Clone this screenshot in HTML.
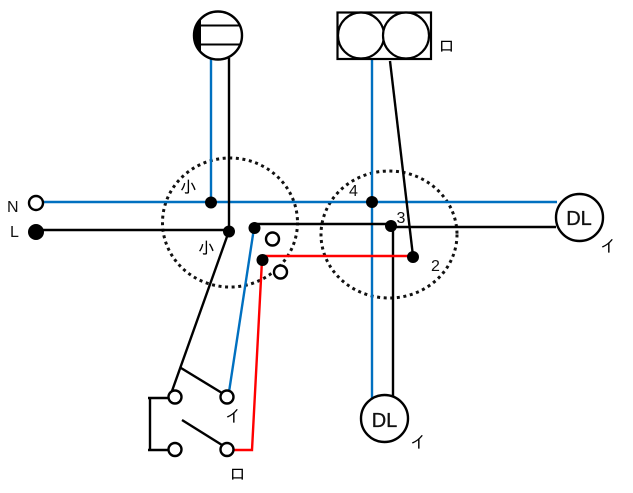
<!DOCTYPE html>
<html><head><meta charset="utf-8"><style>
html,body{margin:0;padding:0;background:#fff;width:633px;height:493px;overflow:hidden}
svg{display:block}
text{font-family:"Liberation Sans","Noto Sans CJK JP",sans-serif}
.k{font-family:"IPAGothic","Noto Sans CJK JP",sans-serif;font-size:17px;font-weight:400;fill:#000}
.n{font-size:16px;fill:#111}
.d{font-size:20px;fill:#111;stroke:#111;stroke-width:.3;text-anchor:middle}
</style></head><body>
<svg width="633" height="493" viewBox="0 0 633 493" xmlns="http://www.w3.org/2000/svg">
<!-- dotted zones -->
<ellipse cx="230" cy="222.500" rx="67.500" ry="64.500" fill="none" stroke="#111" stroke-width="3" stroke-dasharray="3 3.600"/>
<ellipse cx="389" cy="234.500" rx="68" ry="63.500" fill="none" stroke="#111" stroke-width="3" stroke-dasharray="3 3.600"/>
<!-- blue -->
<g fill="none" stroke="#0070c0" stroke-width="2.400">
<path d="M43 202H557"/>
<path d="M211 58V202"/>
<path d="M372 59V398"/>
<path d="M254 228L229 392"/>
</g>
<!-- black -->
<g fill="none" stroke="#000" stroke-width="2.400">
<path d="M36 230H229"/>
<path d="M229 58V231"/>
<path d="M254 224H391"/>
<path d="M391 227H556"/>
<path d="M393 226V398"/>
<path d="M390 61L413 256"/>
<path d="M229 231L172 391"/>
<path d="M181 368L222 393"/>
<path d="M182 420L222 445"/>
<path d="M148 398H169M150 398V450M148 450H169"/>
</g>
<!-- red -->
<path d="M262 256H413M262 260L252 450H233" fill="none" stroke="#f00" stroke-width="2.400"/>
<!-- meter -->
<circle cx="218" cy="35.500" r="24" fill="#fff" stroke="#000" stroke-width="2.400"/>
<path d="M201 18.500A24 24 0 0 0 201 52.500Z" fill="#000"/>
<path d="M201 25.500H240M201 44.500H240" stroke="#000" stroke-width="2"/>
<!-- outlet box -->
<rect x="337.500" y="12.500" width="93.500" height="46.500" fill="#fff" stroke="#000" stroke-width="2.200"/>
<circle cx="361" cy="35.500" r="23" fill="#fff" stroke="#000" stroke-width="2.200"/>
<circle cx="406" cy="35.500" r="23" fill="#fff" stroke="#000" stroke-width="2.200"/>
<!-- terminals -->
<g fill="#fff" stroke="#000" stroke-width="2.400">
<circle cx="36" cy="203" r="7"/>
<circle cx="272.500" cy="239" r="6.500"/>
<circle cx="280.500" cy="272" r="6.500"/>
<circle cx="175" cy="397" r="6.500"/>
<circle cx="227" cy="397" r="6.500"/>
<circle cx="175" cy="449.500" r="6.500"/>
<circle cx="227" cy="449.500" r="6.500"/>
<circle cx="579.500" cy="217.500" r="23.500"/>
<circle cx="384.500" cy="418.500" r="23.500"/>
</g>
<g fill="#000">
<circle cx="36" cy="232" r="8"/>
<circle cx="211" cy="202.500" r="6"/>
<circle cx="229" cy="231.500" r="6"/>
<circle cx="254.500" cy="228" r="6"/>
<circle cx="262.500" cy="260" r="6"/>
<circle cx="372" cy="202" r="6"/>
<circle cx="391" cy="226" r="6"/>
<circle cx="413" cy="257" r="6"/>
</g>
<!-- labels -->
<text class="n" x="7" y="212">N</text>
<text class="n" x="10" y="237">L</text>
<text class="n" x="349" y="196">4</text>
<text class="n" x="396.500" y="223">3</text>
<text class="n" x="431" y="271">2</text>
<text class="d" x="579" y="225">DL</text>
<text class="d" x="384.500" y="427">DL</text>
<text class="k" x="180" y="193">小</text>
<text class="k" x="198" y="254">小</text>
<text class="k" x="438" y="52">ロ</text>
<text class="k" x="229" y="480">ロ</text>
<text class="k" x="225" y="422">イ</text>
<text class="k" x="600" y="252">イ</text>
<text class="k" x="410" y="448">イ</text>
</svg>
</body></html>
